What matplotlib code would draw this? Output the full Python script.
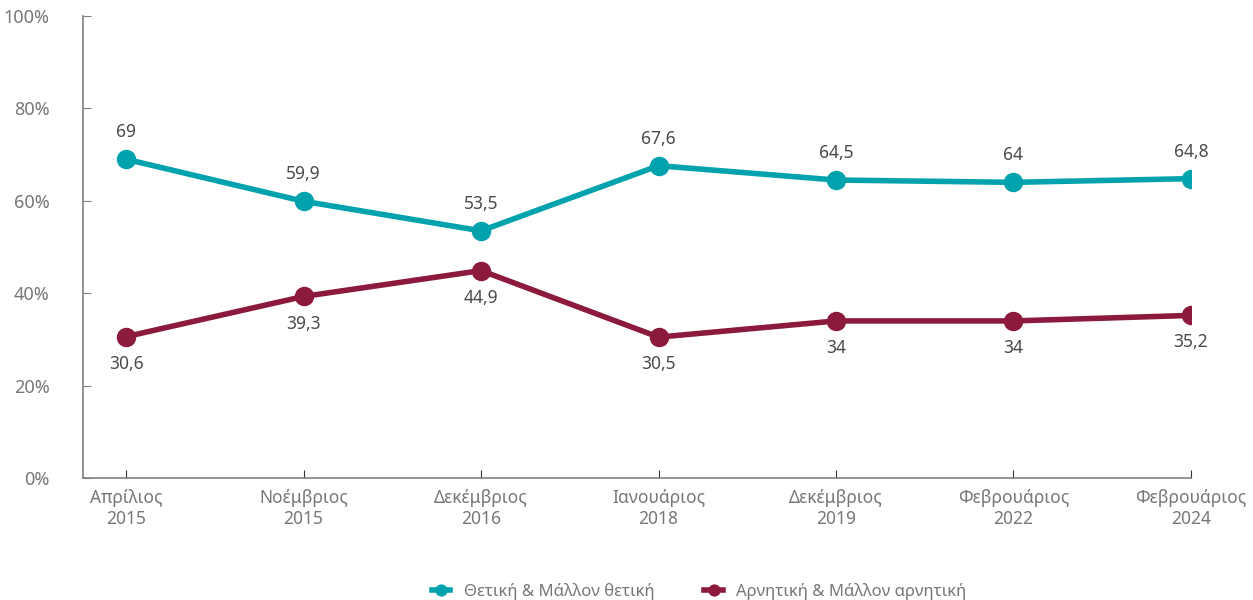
import matplotlib.pyplot as plt
from matplotlib.ticker import FuncFormatter

plt.rcParams['font.family'] = ['Noto Sans', 'DejaVu Sans']

categories = ['Απρίλιος\n2015', 'Νοέμβριος\n2015', 'Δεκέμβριος\n2016', 'Ιανουάριος\n2018',
              'Δεκέμβριος\n2019', 'Φεβρουάριος\n2022', 'Φεβρουάριος\n2024']
positive = [69, 59.9, 53.5, 67.6, 64.5, 64, 64.8]
negative = [30.6, 39.3, 44.9, 30.5, 34, 34, 35.2]
series_names = ['Θετική & Μάλλον θετική', 'Αρνητική & Μάλλον αρνητική']

teal = '#00A3AD'
maroon = '#8C1A3D'
axis_gray = '#808080'
text_gray = '#4a4a4a'

fig = plt.figure(figsize=(12.53, 6), dpi=100)
ax = fig.add_axes([0.0662, 0.2033, 0.8843, 0.77])

x = range(len(categories))
ax.plot(x, positive, color=teal, lw=4, marker='o', ms=13, label=series_names[0], zorder=3)
ax.plot(x, negative, color=maroon, lw=4, marker='o', ms=13, label=series_names[1], zorder=3)

def fmt(v):
    return f'{v:g}'.replace('.', ',')

for i, v in enumerate(positive):
    ax.annotate(fmt(v), (i, v), xytext=(0, 13), textcoords='offset points', ha='center',
                va='bottom', fontsize=12.5, color=text_gray, fontweight='bold')
for i, v in enumerate(negative):
    ax.annotate(fmt(v), (i, v), xytext=(0, -13), textcoords='offset points', ha='center',
                va='top', fontsize=12.5, color=text_gray, fontweight='bold')

ax.set_xlim(-0.243, 6)
ax.set_ylim(0, 100)
ax.set_yticks([0, 20, 40, 60, 80, 100])
ax.yaxis.set_major_formatter(FuncFormatter(lambda v, p: f'{v:.0f}%'))
ax.set_xticks(list(x))
ax.set_xticklabels(categories)

for s in ['top', 'right']:
    ax.spines[s].set_visible(False)
for s in ['left', 'bottom']:
    ax.spines[s].set_color(axis_gray)
    ax.spines[s].set_linewidth(1.2)

ax.tick_params(axis='y', direction='in', length=6, color=axis_gray, labelcolor='#777777',
               labelsize=13, pad=24)
ax.tick_params(axis='x', direction='in', length=6, color='#333333', labelcolor='#777777',
               labelsize=12.5, pad=8)

fig.legend(loc='lower center', bbox_to_anchor=(0.558, -0.025), ncol=2, frameon=False,
           fontsize=12, labelcolor='#777777', markerscale=0.6, handlelength=1.1,
           columnspacing=3, handletextpad=0.8)

fig.savefig('out.png', dpi=100)
